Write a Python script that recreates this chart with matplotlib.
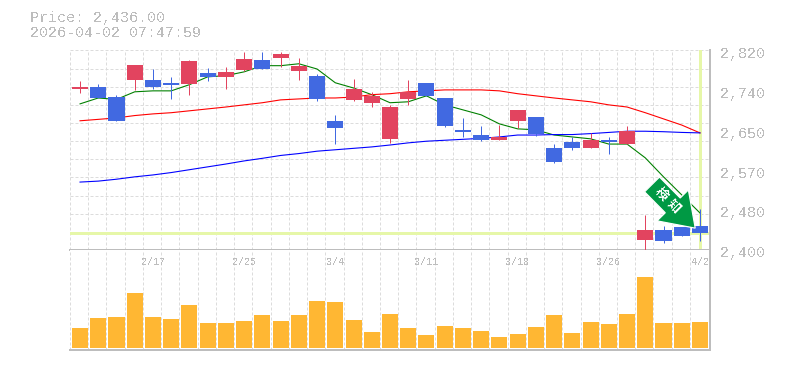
import numpy as np
import matplotlib
matplotlib.use("Agg")
import matplotlib.pyplot as plt
from matplotlib.patches import Polygon
from matplotlib.transforms import IdentityTransform

plt.rcParams['text.antialiased'] = False

# candles, oldest first
opens = [2739, 2743.5, 2722, 2758, 2758, 2752, 2750, 2773, 2764.5, 2779, 2800, 2805,
	2777, 2767, 2672, 2716, 2710, 2634, 2718, 2752, 2720, 2653, 2642, 2632, 2672,
	2680, 2615, 2627.5, 2615, 2632, 2623, 2421, 2442, 2448.5, 2451]
closes = [2743.5, 2720, 2672, 2790, 2743.5, 2748, 2798, 2764.5, 2775, 2802.5, 2781, 2813,
	2788, 2718, 2657, 2739, 2724.5, 2701, 2733, 2724.5, 2661, 2649, 2632, 2638, 2695,
	2644, 2585.5, 2615, 2632, 2627.5, 2651, 2442, 2419, 2429.5, 2436]
highs = [2756, 2750, 2727, 2790, 2781, 2764.5, 2800, 2783.5, 2786, 2817, 2817, 2817,
	2805, 2771, 2684.5, 2760, 2733, 2705.5, 2758, 2752, 2720, 2678, 2661, 2663, 2695,
	2680, 2623, 2638, 2646.5, 2638, 2661, 2474, 2451, 2448.5, 2486]
lows = [2731, 2720, 2672, 2737, 2739, 2718, 2727, 2756, 2739, 2777, 2781, 2786,
	2758, 2714, 2623, 2714, 2701, 2625.5, 2705.5, 2724.5, 2659, 2638, 2630, 2632, 2657,
	2640, 2583, 2611, 2615, 2602, 2623, 2400, 2415, 2429.5, 2419]

ma_short = [2707.6, 2720, 2717, 2733, 2735, 2735, 2748, 2764.5, 2767, 2775, 2788, 2788,
	2792, 2781, 2752, 2741, 2727, 2710, 2712, 2724.5, 2705.5, 2695, 2684.5, 2665.5, 2655,
	2653, 2642, 2638, 2634, 2623, 2623, 2594, 2554, 2516, 2478]
ma_mid = [2672, 2675, 2678, 2683, 2686.5, 2689, 2693, 2697, 2701, 2705.5, 2710, 2716,
	2718, 2720, 2720, 2722, 2727, 2729, 2733, 2735, 2737, 2737, 2737, 2735, 2729,
	2724.5, 2720, 2716, 2712, 2705.5, 2701, 2689, 2676, 2663, 2646.5]
ma_long = [2543, 2545, 2549, 2554, 2558, 2563, 2569, 2575, 2581, 2587.5, 2593, 2599,
	2603, 2608, 2611, 2614, 2617, 2621, 2625.5, 2629, 2631, 2633, 2635, 2638, 2642,
	2642, 2643, 2643, 2645, 2647.5, 2650, 2650, 2649, 2647.5, 2646.5]

volumes = [20, 30, 31, 55, 31, 29, 43, 25, 25, 27, 33, 27, 33, 47, 46, 28, 16, 34,
	20, 13, 22, 20, 17, 11, 14, 21, 33, 15, 26, 24, 34, 71, 25, 25, 26]

date_pos = [4, 9, 14, 19, 24, 29, 34]
date_labels = ["2/17", "2/25", "3/4", "3/11", "3/18", "3/26", "4/2"]
price_ticks = [2400, 2484, 2568, 2652, 2736, 2820]
price_labels = ["2,400", "2,480", "2,570", "2,650", "2,740", "2,820"]
last_price = 2436
header = ["Price: 2,436.00", "2026-04-02 07:47:59"]
signal_chars = ["検", "知"]

W, H = 785, 370
GRAY = "#bdbdbd"
GRID = "#dcdcdc"
RED = "#e2445f"
BLUE = "#4169e1"
MARK = "#e6f7a8"
MONO = "Liberation Mono"
CJK = ["Noto Sans CJK JP", "DejaVu Sans"]
PX = 0.72  # one pixel in points

fig = plt.figure(figsize=(W / 100, H / 100), dpi=100)
ax = fig.add_axes([70 / W, 1 - 250 / H, 640 / W, 200 / H])
vol = fig.add_axes([70 / W, 1 - 350 / H, 640 / W, 100 / H], sharex=ax)

xs = np.arange(len(closes))
left, right = -0.55, 34.55
grid_x = np.arange(len(closes) + 1) - 0.55
dash = (0, (3, 2))

for a in (ax, vol):
	a.set_xlim(left, right)
	for s in a.spines.values():
		s.set_visible(False)
	a.tick_params(left=False, right=False, top=False, bottom=False,
		labelleft=False, labelbottom=False)
	a.vlines(grid_x[:-1], 0, 1, transform=a.get_xaxis_transform(), color=GRID, lw=PX,
		linestyles=dash, zorder=1)
	a.spines["bottom"].set_visible(True)
	a.spines["bottom"].set_color(GRAY)
	a.spines["bottom"].set_linewidth(2 * PX)
	a.spines["right"].set_visible(True)
	a.spines["right"].set_color(GRAY)
	a.spines["right"].set_linewidth(2 * PX)

ax.set_ylim(2400, 2821)
ax.hlines(2400 + np.arange(1, 12) * 420 / 11, 0, 1, transform=ax.get_yaxis_transform(),
	color=GRID, lw=PX, linestyles=dash, zorder=1)

ax.axhline(last_price, color=MARK, lw=3 * PX, zorder=2)
ax.axvline(xs[-1], color=MARK, lw=3 * PX, zorder=2)

ax.plot(xs, ma_short, color="#008000", lw=1.1 * PX, zorder=3)
ax.plot(xs, ma_mid, color="#ff0000", lw=1.1 * PX, zorder=3)
ax.plot(xs, ma_long, color="#0000ff", lw=1.1 * PX, zorder=3)

colors = [RED if c >= o else BLUE for o, c in zip(opens, closes)]
ax.vlines(xs, lows, highs, color=colors, lw=PX, zorder=4)
ax.bar(xs, np.array(closes) - np.array(opens), bottom=opens, width=0.88, color=colors,
	zorder=5, antialiased=False)

# signal arrow, built in pixels so the 45 degree shape stays right
fig.canvas.draw()
tip = ax.transData.transform((33.74, 2446))
tail = ax.transData.transform((31.37, 2538))
along = (tip - tail) / np.hypot(*(tip - tail))
across = np.array([-along[1], along[0]])
base = tip - along * 32
arrow = Polygon([tail + across * 10.5, base + across * 10.5, base + across * 22, tip,
	base - across * 22, base - across * 10.5, tail - across * 10.5],
	closed=True, facecolor="#009944", edgecolor="white", linewidth=1.2 * PX,
	transform=IdentityTransform(), zorder=7)
ax.add_patch(arrow)
ax.text(31.9, 2518, signal_chars[0], color="white", fontsize=9, fontweight="bold", rotation=-45,
	ha="center", va="center", family=CJK, zorder=8)
ax.text(32.54, 2493, signal_chars[1], color="white", fontsize=9, fontweight="bold", rotation=-45,
	ha="center", va="center", family=CJK, zorder=8)

vol.set_ylim(-2.5, 97.5)
vol.bar(xs, volumes, width=0.88, color="#ffb733", zorder=3, antialiased=False)
for p, lab in zip(date_pos, date_labels):
	vol.annotate(lab, xy=(p, 1), xycoords=vol.get_xaxis_transform(), xytext=(0, -8.6),
		textcoords="offset points", color=GRAY, fontsize=7.2, family=MONO,
		ha="center", va="center", zorder=2)

for t, lab in zip(price_ticks, price_labels):
	ax.annotate(lab, xy=(1, t), xycoords=ax.get_yaxis_transform(), xytext=(7.5, -2.4),
		textcoords="offset points", color=GRAY, fontsize=10.8, family=MONO,
		ha="left", va="center", annotation_clip=False)

fig.text(30 / W, 1 - 18 / H, header[0], color=GRAY, fontsize=10.8, family=MONO, va="center")
fig.text(30 / W, 1 - 33 / H, header[1], color=GRAY, fontsize=10.8, family=MONO, va="center")

fig.savefig("out.png", dpi=100)
plt.close(fig)
